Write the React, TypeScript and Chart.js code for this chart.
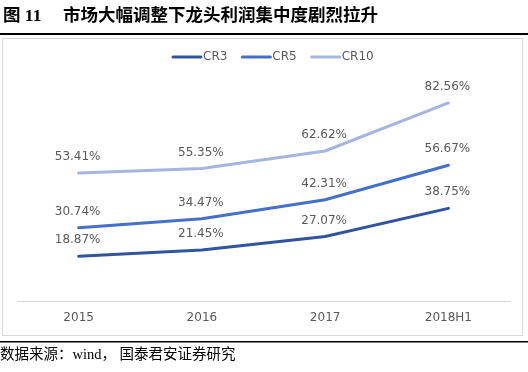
import React, { useEffect, useRef } from "react";
import { Chart, registerables } from "chart.js";

Chart.register(...registerables);

const categories = ["2015", "2016", "2017", "2018H1"];
const cr3 = [18.87, 21.45, 27.07, 38.75];
const cr5 = [30.74, 34.47, 42.31, 56.67];
const cr10 = [53.41, 55.35, 62.62, 82.56];
const seriesNames = ["CR3", "CR5", "CR10"];
const seriesColors = ["#2F55A0", "#4270CA", "#A4B5DF"];
const titleNo = "图 11";
const titleText = "市场大幅调整下龙头利润集中度剧烈拉升";
const footerText = "数据来源：wind， 国泰君安证券研究";

const CHART_FONT = "'DejaVu Sans', sans-serif";
const TEXT_GRAY = "#595959";

const decorPlugin = {
  id: "decor",
  beforeDraw(chart: any) {
    const ctx = chart.ctx as CanvasRenderingContext2D;
    ctx.save();
    ctx.fillStyle = "#ffffff";
    ctx.fillRect(0, 0, chart.width, chart.height);
    // title
    ctx.fillStyle = "#000000";
    ctx.textBaseline = "middle";
    ctx.textAlign = "left";
    ctx.font = "bold 17.5px 'Liberation Serif', 'Noto Sans CJK SC', serif";
    ctx.fillText(titleNo, 3, 16);
    ctx.fillText(titleText, 63, 16);
    // title rule
    ctx.fillRect(0, 33, chart.width, 2);
    // chart box
    ctx.strokeStyle = "#d9d9d9";
    ctx.lineWidth = 1;
    ctx.strokeRect(2.5, 38.5, 520, 297);
    // footer rule
    ctx.fillStyle = "#000000";
    ctx.fillRect(0, 341, chart.width, 1.5);
    ctx.font = "14.5px 'Liberation Serif', 'Noto Sans CJK SC', serif";
    ctx.fillText(footerText, 0, 355);
    // legend
    ctx.font = "12px " + CHART_FONT;
    let x = 172;
    const ly = 57;
    seriesNames.forEach((name, i) => {
      ctx.strokeStyle = seriesColors[i];
      ctx.lineWidth = 3;
      ctx.lineCap = "round";
      ctx.beginPath();
      ctx.moveTo(x + 1, ly);
      ctx.lineTo(x + 29, ly);
      ctx.stroke();
      ctx.fillStyle = TEXT_GRAY;
      ctx.fillText(name, x + 31, ly);
      x += 31 + ctx.measureText(name).width + 14;
    });
    ctx.restore();
  },
  afterDatasetsDraw(chart: any) {
    const ctx = chart.ctx as CanvasRenderingContext2D;
    ctx.save();
    ctx.font = "12px " + CHART_FONT;
    ctx.fillStyle = TEXT_GRAY;
    ctx.textAlign = "center";
    ctx.textBaseline = "middle";
    chart.data.datasets.forEach((ds: any, di: number) => {
      const meta = chart.getDatasetMeta(di);
      meta.data.forEach((pt: any, i: number) => {
        ctx.fillText(ds.data[i].toFixed(2) + "%", pt.x - 1, pt.y - 16);
      });
    });
    ctx.restore();
  },
};

export default function App() {
  const ref = useRef<HTMLCanvasElement | null>(null);
  useEffect(() => {
    document.body.style.margin = "0";
    const seriesData = [cr3, cr5, cr10];
    const chart = new Chart(ref.current as HTMLCanvasElement, {
      type: "line",
      data: {
        labels: categories,
        datasets: seriesNames.map((name, i) => ({
          label: name,
          data: seriesData[i],
          borderColor: seriesColors[i],
          backgroundColor: seriesColors[i],
          borderWidth: 3,
          pointRadius: 0,
          tension: 0,
          borderCapStyle: "round" as const,
        })),
      },
      options: {
        responsive: false,
        animation: false,
        layout: { padding: { top: 61, left: 17, right: 18, bottom: 46 } },
        plugins: {
          legend: { display: false },
          tooltip: { enabled: false },
        },
        scales: {
          x: {
            offset: true,
            grid: { display: false },
            border: { display: true, color: "#d9d9d9", width: 1 },
            ticks: {
              color: TEXT_GRAY,
              font: { family: CHART_FONT, size: 12 },
              padding: 1,
              maxRotation: 0,
            },
          },
          y: {
            display: false,
            min: 0,
            max: 100,
          },
        },
      },
      plugins: [decorPlugin],
    });
    return () => chart.destroy();
  }, []);
  return (
    <div style={{ position: "absolute", left: 0, top: 0, width: 528, height: 372 }}>
      <canvas ref={ref} width={528} height={372} style={{ display: "block" }} />
    </div>
  );
}
